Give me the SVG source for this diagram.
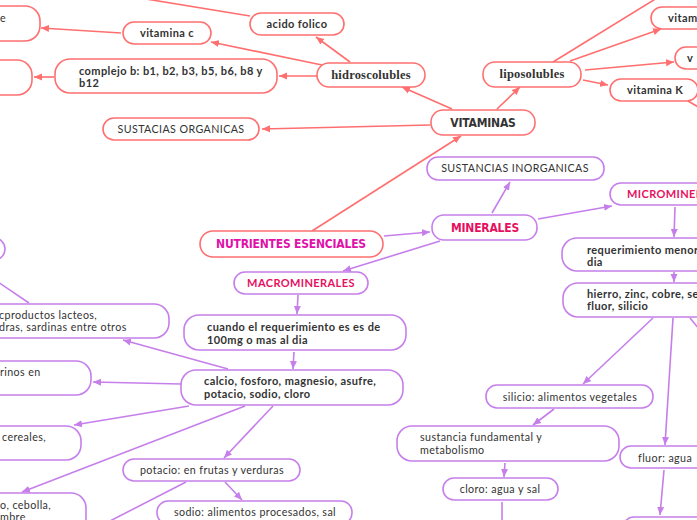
<svg xmlns="http://www.w3.org/2000/svg" width="697" height="520" viewBox="0 0 697 520">
<style>
.r rect{fill:#fff;stroke:#FF6F6F;stroke-width:1.6}
.p rect{fill:#fff;stroke:#C67FEA;stroke-width:1.6}
text{font-family:Lato,"Noto Sans",sans-serif;font-size:10.7px;letter-spacing:0.4px;fill:#333}
.b{font-weight:bold;font-size:11px}
.m{text-anchor:middle}
.sl{font-family:"Liberation Serif","DejaVu Serif",serif;font-weight:bold;font-size:12.5px;letter-spacing:0.2px}
.h{font-family:"DejaVu Sans Condensed","DejaVu Sans",sans-serif;font-stretch:condensed;font-weight:bold;font-size:12px;letter-spacing:-0.2px}
.cr{fill:#E6105E}
.mg{fill:#E010A8}
.rl line{stroke:#FF6F6F;stroke-width:1.6;marker-end:url(#ar)}
.pl line{stroke:#C67FEA;stroke-width:1.6;marker-end:url(#ap)}
line.n{marker-end:none}
</style>
<defs>
<marker id="ar" markerUnits="userSpaceOnUse" markerWidth="9" markerHeight="8" refX="8" refY="4" orient="auto"><path d="M0,0.5 L8,4 L0,7.5 z" fill="#FF6F6F"/></marker>
<marker id="ap" markerUnits="userSpaceOnUse" markerWidth="9" markerHeight="8" refX="8" refY="4" orient="auto"><path d="M0,0.5 L8,4 L0,7.5 z" fill="#C67FEA"/></marker>
</defs>
<rect width="697" height="520" fill="#fff"/>
<g id="connectors">
<g class="rl">
<line class="n" x1="140" y1="-2" x2="250" y2="16"/>
<line x1="121" y1="33" x2="41" y2="28"/>
<line x1="54" y1="77" x2="34" y2="77"/>
<line x1="317" y1="76" x2="279" y2="76"/>
<line x1="322" y1="65" x2="211" y2="42"/>
<line x1="350" y1="62" x2="316" y2="37"/>
<line x1="430" y1="125" x2="262" y2="129"/>
<line x1="452" y1="109" x2="402" y2="87"/>
<line x1="497" y1="109" x2="520" y2="87"/>
<line class="n" x1="553" y1="62" x2="657" y2="-2"/>
<line x1="570" y1="61" x2="661" y2="29"/>
<line x1="585" y1="70" x2="674" y2="62"/>
<line x1="583" y1="80" x2="608" y2="85"/>
<line class="n" x1="688" y1="101" x2="700" y2="108"/>
<line x1="312" y1="231" x2="461" y2="136"/>
</g>
<g class="pl">
<line x1="384" y1="236" x2="430" y2="232"/>
<line x1="492" y1="213" x2="510" y2="182"/>
<line x1="538" y1="219" x2="612" y2="206"/>
<line x1="440" y1="241" x2="343" y2="271"/>
<line x1="298" y1="295" x2="297" y2="314"/>
<line x1="294" y1="352" x2="293" y2="369"/>
<line x1="228" y1="369" x2="123" y2="340"/>
<line class="n" x1="29" y1="303" x2="-5" y2="280"/>
<line x1="181" y1="384" x2="93" y2="382"/>
<line x1="189" y1="406" x2="74" y2="425"/>
<line x1="245" y1="406" x2="22" y2="492"/>
<line x1="273" y1="406" x2="224" y2="458"/>
<line x1="225" y1="482" x2="242" y2="500"/>
<line class="n" x1="186" y1="482" x2="108" y2="522"/>
<line x1="675" y1="207" x2="674" y2="237"/>
<line x1="674" y1="272" x2="674" y2="282"/>
<line x1="653" y1="318" x2="583" y2="384"/>
<line x1="673" y1="318" x2="665" y2="445"/>
<line class="n" x1="690" y1="318" x2="700" y2="330"/>
<line x1="554" y1="409" x2="533" y2="425"/>
<line x1="505" y1="463" x2="504" y2="477"/>
<line class="n" x1="502" y1="502" x2="502" y2="522"/>
<line x1="664" y1="470" x2="660" y2="515"/>
</g>
</g>
<g id="n-e" class="r"><rect x="-20" y="6" width="60" height="35" rx="15"/><text x="0" y="22">e</text></g>
<g id="n-vitc" class="r"><rect x="123" y="22" width="88" height="22" rx="11"/><text class="b m" x="167" y="37">vitamina c</text></g>
<g id="n-acido" class="r"><rect x="250" y="13" width="94" height="22" rx="11"/><text class="b m" x="297" y="28">acido folico</text></g>
<g id="n-compb" class="r"><rect x="55" y="59" width="222" height="34" rx="15"/><text class="b" x="79" y="75">complejo b: b1, b2, b3, b5, b6, b8 y</text><text class="b" x="79" y="87">b12</text></g>
<g id="n-left-b" class="r"><rect x="-30" y="60" width="62" height="35" rx="15"/></g>
<g id="n-hidro" class="r"><rect x="317" y="63" width="108" height="24" rx="12"/><text class="sl m" x="371" y="79">hidroscolubles</text></g>
<g id="n-org" class="r"><rect x="103" y="118" width="156" height="22" rx="11"/><text class="m" x="181" y="133">SUSTACIAS ORGANICAS</text></g>
<g id="n-vitaminas" class="r"><rect x="431" y="110" width="104" height="25" rx="12"/><text class="h m" x="483" y="127">VITAMINAS</text></g>
<g id="n-lipo" class="r"><rect x="483" y="62" width="98" height="25" rx="12"/><text class="sl m" x="532" y="78">liposolubles</text></g>
<g id="n-vitam" class="r"><rect x="651" y="7" width="70" height="22" rx="11"/><text class="b" x="668" y="22">vitam</text></g>
<g id="n-v" class="r"><rect x="675" y="47" width="40" height="22" rx="11"/><text class="b" x="687" y="62">v</text></g>
<g id="n-vitk" class="r"><rect x="610" y="79" width="88" height="22" rx="11"/><text class="b" x="627" y="94">vitamina K</text></g>
<g id="n-nutri" class="r"><rect x="200" y="231" width="183" height="26" rx="13"/><text class="h m mg" x="291" y="248">NUTRIENTES ESENCIALES</text></g>
<g id="n-inorg" class="p"><rect x="427" y="157" width="177" height="23" rx="11"/><text class="m" x="515" y="172">SUSTANCIAS INORGANICAS</text></g>
<g id="n-minerales" class="p"><rect x="432" y="215" width="105" height="25" rx="12"/><text class="h m cr" x="485" y="232">MINERALES</text></g>
<g id="n-micro" class="p"><rect x="610" y="183" width="120" height="22" rx="11"/><text class="b cr" x="627" y="198">MICROMINER</text></g>
<g id="n-macro" class="p"><rect x="234" y="272" width="134" height="22" rx="11"/><text class="b m cr" x="301" y="287">MACROMINERALES</text></g>
<g id="n-cuando" class="p"><rect x="184" y="315" width="222" height="35" rx="15"/><text class="b" x="207" y="331">cuando el requerimiento es es de</text><text class="b" x="207" y="344">100mg o mas al dia</text></g>
<g id="n-calcio" class="p"><rect x="181" y="370" width="222" height="35" rx="15"/><text class="b" x="204" y="385">calcio, fosforo, magnesio, asufre,</text><text class="b" x="204" y="398">potacio, sodio, cloro</text></g>
<g id="n-lacteos" class="p"><rect x="-30" y="304" width="199" height="34" rx="15"/><text x="-1" y="319">cproductos lacteos,</text><text x="-1" y="331">dras, sardinas entre otros</text></g>
<g id="n-topleft" class="p"><rect x="-40" y="238" width="45" height="22" rx="11"/></g>
<g id="n-rinos" class="p"><rect x="-30" y="361" width="121" height="34" rx="15"/><text x="0" y="376">rinos en</text></g>
<g id="n-cereales" class="p"><rect x="-30" y="426" width="111" height="34" rx="15"/><text x="2" y="441">cereales,</text></g>
<g id="n-cebolla" class="p"><rect x="-30" y="493" width="116" height="40" rx="15"/><text x="0" y="509">o, cebolla,</text><text x="0" y="521">mbre</text></g>
<g id="n-potacio" class="p"><rect x="123" y="459" width="177" height="22" rx="11"/><text class="m" x="212" y="474">potacio: en frutas y verduras</text></g>
<g id="n-sodio" class="p"><rect x="157" y="501" width="195" height="23" rx="11"/><text class="m" x="255" y="516">sodio: alimentos procesados, sal</text></g>
<g id="n-req" class="p"><rect x="562" y="238" width="160" height="33" rx="15"/><text class="b" x="587" y="254">requerimiento menor</text><text class="b" x="587" y="266">dia</text></g>
<g id="n-hierro" class="p"><rect x="563" y="283" width="160" height="34" rx="15"/><text class="b" x="587" y="298">hierro, zinc, cobre, se</text><text class="b" x="587" y="310">fluor, silicio</text></g>
<g id="n-silicio" class="p"><rect x="486" y="385" width="167" height="23" rx="11"/><text class="m" x="570" y="401">silicio: alimentos vegetales</text></g>
<g id="n-sust" class="p"><rect x="397" y="426" width="222" height="35" rx="15"/><text x="420" y="441">sustancia fundamental y</text><text x="420" y="454">metabolismo</text></g>
<g id="n-cloro" class="p"><rect x="443" y="478" width="115" height="22" rx="11"/><text class="m" x="500" y="493">cloro: agua y sal</text></g>
<g id="n-fluor" class="p"><rect x="620" y="446" width="100" height="22" rx="11"/><text x="638" y="462">fluor: agua</text></g>
<g id="n-bottomright" class="p"><rect x="623" y="517" width="90" height="22" rx="11"/></g>
</svg>
